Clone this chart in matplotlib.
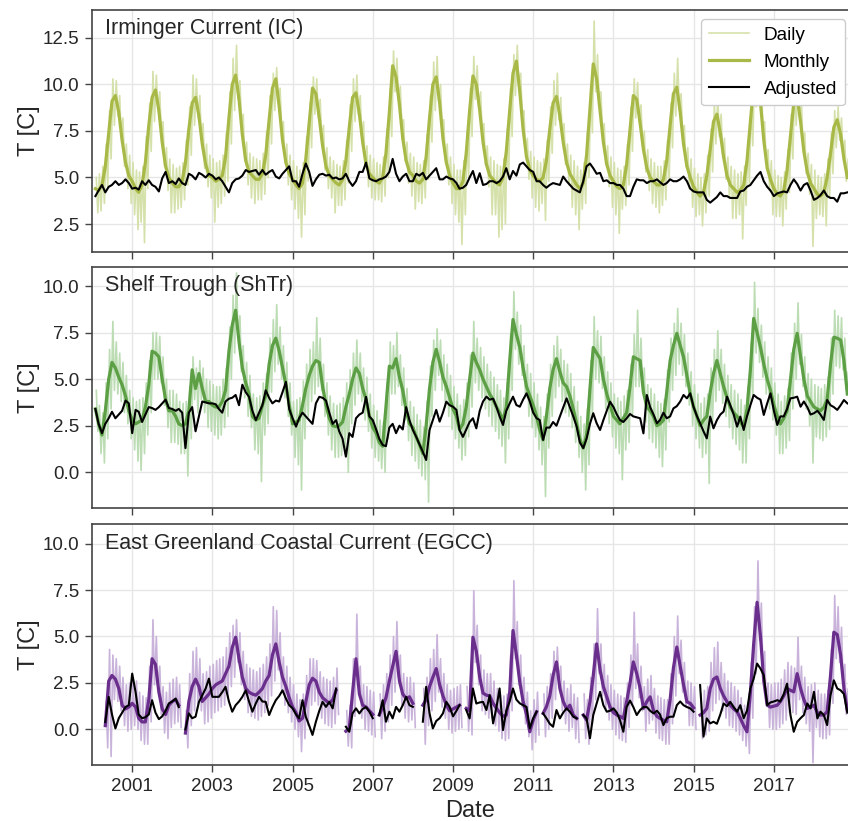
import numpy as np
import pandas as pd
import matplotlib
matplotlib.use("Agg")
from matplotlib import pyplot as plt

nan = np.nan

# monthly grid: Jan 2000 .. Nov 2018 (227 months), one row per year
start_month = "2000-01-01"

# ---------------- Irminger Current (IC) ----------------
ic_monthly = [
    nan, 4.4, 4.3, 4.6, 5.6, 7.4, 9.1, 9.4, 8.5, 7.0, 5.8, 5.1,
    4.8, 4.4, 4.2, 4.6, 5.8, 7.8, 9.3, 9.7, 8.6, 6.9, 5.6, 5.0,
    4.7, 4.5, 4.5, 4.8, 5.8, 7.6, 9.0, 9.3, 8.3, 6.8, 5.7, 5.1,
    5.0, 4.8, 4.9, 5.1, 6.1, 8.2, 10.0, 10.5, 9.2, 7.3, 5.9, 5.3,
    5.1, 4.9, 4.9, 5.2, 6.2, 8.1, 9.8, 10.3, 8.8, 7.0, 5.8, 5.2,
    4.9, 4.6, 4.4, 4.7, 6.0, 7.9, 9.8, 9.5, 8.2, 6.7, 5.6, 5.1,
    4.9, 4.7, 4.6, 4.9, 5.9, 7.7, 9.3, 9.55, 8.4, 6.9, 5.7, 5.2,
    5.0, 4.8, 4.7, 5.0, 6.3, 8.5, 11.0, 10.4, 8.9, 7.1, 5.9, 5.3,
    5.1, 4.8, 4.7, 4.9, 6.1, 8.2, 10.0, 10.4, 9.0, 7.1, 5.8, 5.1,
    4.7, 4.4, 4.4, 4.8, 6.3, 8.6, 10.45, 10.0, 8.6, 6.9, 5.7, 5.1,
    4.9, 4.7, 4.6, 5.0, 6.4, 8.6, 10.6, 11.25, 9.6, 7.6, 6.1, 5.4,
    5.1, 4.9, 4.8, 5.0, 5.9, 7.6, 9.0, 9.35, 8.3, 6.9, 5.8, 5.2,
    4.9, 4.6, 4.4, 4.7, 6.2, 8.7, 11.1, 10.3, 8.6, 6.9, 5.7, 5.1,
    4.8, 4.5, 4.4, 4.6, 5.7, 7.6, 9.4, 9.2, 7.9, 6.5, 5.5, 5.0,
    4.8, 4.6, 4.6, 4.9, 5.9, 7.8, 9.5, 9.85, 8.5, 6.8, 5.6, 5.0,
    4.5, 4.2, 4.0, 4.2, 5.1, 6.5, 8.0, 8.4, 7.4, 6.1, 5.1, 4.6,
    4.4, 4.2, 4.3, 4.6, 5.9, 8.0, 10.0, 10.6, 9.0, 7.0, 5.5, 4.9,
    4.4, 4.1, 4.0, 4.3, 5.4, 7.2, 9.0, 9.35, 8.0, 6.4, 5.3, 4.7,
    4.4, 4.1, 4.0, 4.2, 5.0, 6.3, 7.7, 8.1, 7.3, 6.0, 5.0,
]
ic_adjusted = [
    nan, 4.0, 4.3, 4.6, 4.2, 4.5, 4.6, 4.8, 4.6, 4.7, 4.9, 4.7,
    4.4, 4.45, 4.35, 4.8, 4.6, 4.85, 4.6, 4.5, 4.25, 4.95, 5.3, 4.7,
    4.8, 4.65, 4.95, 4.7, 4.6, 5.2, 5.1, 4.9, 5.25, 5.15, 5.0, 5.2,
    5.1, 4.9, 5.0, 4.8, 4.5, 4.2, 4.7, 4.9, 4.95, 5.1, 5.4, 5.3,
    5.35, 5.4, 5.15, 5.4, 5.15, 5.3, 5.4, 5.05, 4.95, 5.2, 5.4, 5.6,
    4.8, 4.8, 4.5, 5.2, 5.75, 5.3, 4.55, 4.9, 5.15, 5.2, 5.1, 5.15,
    4.95, 5.0, 4.9, 4.95, 5.2, 4.8, 4.55, 4.8, 5.3, 5.3, 5.8, 4.95,
    4.85, 4.8, 4.9, 4.95, 5.05, 5.3, 6.0, 5.2, 4.8, 5.05, 5.2, 4.8,
    4.8, 5.2, 5.1, 5.25, 4.9, 5.1, 5.3, 5.5, 4.9, 4.9, 5.05, 4.95,
    4.9, 4.7, 4.4, 4.45, 4.6, 5.0, 5.35, 4.7, 5.23, 4.6, 4.65, 4.8,
    4.8, 4.7, 4.8, 5.05, 5.5, 4.9, 5.35, 5.1, 5.7, 5.8, 5.6, 5.4,
    5.3, 4.8, 4.8, 4.6, 4.45, 4.6, 4.7, 4.65, 4.6, 5.05, 4.8, 4.6,
    4.4, 4.3, 4.2, 4.8, 5.6, 5.75, 5.5, 5.2, 5.25, 4.8, 4.85, 4.7,
    4.7, 4.6, 4.6, 4.4, 4.0, 4.0, 4.5, 4.9, 4.85, 4.85, 4.7, 4.8,
    4.8, 4.9, 4.75, 4.6, 4.7, 4.9, 4.8, 4.8, 4.9, 5.05, 4.8, 4.4,
    4.25, 4.2, 4.2, 4.2, 3.8, 3.65, 3.8, 3.95, 4.2, 4.0, 4.0, 3.9,
    3.9, 3.9, 4.25, 4.3, 4.5, 4.6, 4.85, 5.1, 5.3, 4.8, 4.5, 4.3,
    4.0, 4.15, 4.2, 4.25, 4.2, 4.6, 4.9, 4.65, 4.3, 4.6, 4.7, 4.3,
    3.8, 3.9, 4.05, 4.3, 4.0, 3.9, 3.9, 3.7, 4.15, 4.15, 4.2,
]
# daily range within each month (highest / lowest daily value)
ic_daily_hi = [
    nan, 5.0, 5.2, 5.6, 6.8, 8.6, 10.3, 10.2, 9.4, 8.2, 6.8, 6.2,
    5.8, 5.4, 5.3, 5.6, 7.2, 9.0, 10.7, 10.5, 9.6, 8.0, 6.6, 6.0,
    5.7, 5.5, 5.6, 5.8, 7.0, 8.8, 10.5, 10.3, 9.4, 7.9, 6.8, 6.2,
    6.0, 5.8, 5.9, 6.2, 7.4, 9.6, 11.4, 12.1, 10.2, 8.4, 6.9, 6.3,
    6.1, 6.0, 5.9, 6.3, 7.5, 9.4, 10.6, 10.9, 9.8, 8.0, 6.8, 6.2,
    5.9, 5.6, 5.4, 5.8, 7.2, 9.0, 10.4, 10.3, 9.2, 7.8, 6.6, 6.1,
    5.9, 5.7, 5.6, 5.9, 7.0, 8.9, 10.3, 10.5, 9.4, 8.0, 6.7, 6.2,
    6.0, 5.8, 5.7, 6.1, 7.6, 9.8, 11.8, 11.4, 9.9, 8.1, 6.9, 6.3,
    6.1, 5.8, 5.7, 5.9, 7.3, 9.4, 11.2, 11.5, 10.0, 8.1, 6.8, 6.1,
    5.7, 5.4, 5.4, 5.9, 7.5, 9.8, 11.5, 11.0, 9.6, 7.9, 6.7, 6.1,
    5.9, 5.7, 5.6, 6.0, 7.6, 9.8, 11.6, 12.1, 10.6, 8.6, 7.1, 6.4,
    6.1, 5.9, 5.8, 6.0, 7.0, 8.8, 10.2, 10.6, 9.3, 7.9, 6.8, 6.2,
    5.9, 5.6, 5.4, 5.8, 7.4, 10.0, 13.4, 11.6, 9.6, 7.9, 6.7, 6.1,
    5.8, 5.5, 5.4, 5.6, 6.8, 8.8, 10.3, 10.1, 8.9, 7.5, 6.5, 6.0,
    5.8, 5.6, 5.6, 5.9, 7.0, 9.0, 10.6, 11.4, 9.5, 7.8, 6.6, 6.0,
    5.5, 5.2, 5.0, 5.2, 6.2, 7.6, 9.0, 9.3, 8.4, 7.1, 6.1, 5.6,
    5.4, 5.2, 5.3, 5.6, 7.0, 9.2, 11.0, 11.3, 10.0, 8.0, 6.5, 5.9,
    5.4, 5.1, 5.0, 5.3, 6.5, 8.4, 10.0, 10.2, 9.0, 7.4, 6.3, 5.7,
    5.4, 5.1, 5.0, 5.2, 6.0, 7.4, 8.6, 8.8, 8.2, 7.0, 6.0,
]
ic_daily_lo = [
    nan, 3.1, 3.2, 3.6, 4.5, 6.0, 7.8, 8.3, 7.2, 5.6, 4.4, 3.6,
    3.0, 2.2, 2.6, 1.5, 4.4, 6.4, 8.0, 8.6, 7.3, 5.6, 4.3, 3.1,
    3.1, 3.3, 3.4, 3.8, 4.6, 6.2, 7.8, 8.2, 7.0, 5.5, 4.5, 3.9,
    2.6, 3.4, 3.6, 4.0, 4.8, 6.8, 8.6, 9.2, 7.9, 6.0, 4.6, 3.9,
    3.6, 3.8, 3.8, 4.1, 5.0, 6.8, 8.6, 9.0, 7.6, 5.8, 4.6, 3.8,
    3.3, 2.8, 1.8, 3.0, 4.8, 6.6, 8.4, 8.2, 7.0, 5.4, 4.4, 3.9,
    3.1, 3.5, 3.5, 3.8, 4.7, 6.4, 8.0, 8.4, 7.2, 5.7, 4.5, 3.9,
    3.8, 3.8, 3.7, 4.0, 5.0, 7.2, 9.6, 9.2, 7.7, 5.9, 4.7, 4.0,
    3.3, 3.7, 3.6, 3.9, 4.9, 6.9, 8.6, 9.1, 7.8, 5.9, 4.6, 3.6,
    3.0, 2.6, 1.4, 3.0, 5.0, 7.2, 9.2, 8.8, 7.3, 5.7, 4.5, 3.0,
    3.0, 1.8, 2.2, 2.5, 5.1, 7.2, 9.4, 10.0, 8.4, 6.4, 4.9, 3.9,
    3.4, 3.2, 3.6, 2.7, 4.8, 6.3, 7.8, 8.1, 7.1, 5.7, 4.6, 3.4,
    3.0, 2.2, 3.3, 3.6, 5.0, 7.4, 9.6, 9.0, 7.4, 5.7, 4.5, 3.4,
    3.0, 2.0, 3.3, 3.5, 4.6, 6.4, 8.2, 8.0, 6.7, 5.3, 4.3, 3.6,
    3.4, 3.1, 3.5, 3.8, 4.8, 6.6, 8.3, 8.6, 7.3, 5.6, 4.4, 3.4,
    2.9, 3.0, 2.4, 3.1, 4.0, 5.3, 6.8, 7.2, 6.2, 4.9, 3.9, 2.8,
    2.8, 3.0, 1.7, 3.5, 4.7, 6.7, 8.8, 9.3, 7.8, 5.8, 4.3, 3.0,
    2.9, 2.9, 2.4, 3.3, 4.2, 6.0, 7.8, 8.2, 6.8, 5.2, 4.1, 1.3,
    2.8, 3.0, 2.9, 2.4, 3.9, 5.2, 6.6, 7.0, 6.2, 4.8, 3.9,
]

# ---------------- Shelf Trough (ShTr) ----------------
shtr_monthly = [
    nan, 3.4, 2.6, 2.0, 3.3, 5.0, 5.9, 5.6, 5.1, 4.7, 4.1, 3.3,
    2.8, 2.6, 2.7, 2.8, 3.5, 4.7, 6.5, 6.4, 6.2, 5.0, 3.9, 3.3,
    3.3, 3.0, 2.6, 2.5, 2.6, 3.3, 5.5, 4.5, 5.3, 4.5, 3.8, 3.8,
    3.6, 3.5, 3.5, 3.8, 4.4, 6.5, 7.9, 8.7, 7.0, 5.6, 4.8, 4.2,
    3.0, 2.8, 2.9, 3.6, 4.1, 5.8, 6.8, 7.2, 6.5, 5.6, 4.7, 3.6,
    2.6, 2.7, 2.8, 3.6, 4.5, 5.2, 5.7, 6.0, 5.9, 4.6, 3.6, 2.9,
    2.5, 2.45, 2.5, 2.7, 3.5, 4.2, 5.0, 5.6, 5.3, 4.5, 3.9, 3.0,
    2.4, 2.1, 1.6, 1.4, 3.5, 5.7, 5.6, 6.1, 5.1, 4.4, 3.3, 2.6,
    2.4, 1.9, 1.5, 1.0, 2.5, 4.5, 5.9, 6.6, 5.9, 5.1, 4.6, 4.0,
    3.4, 3.0, 2.3, 2.6, 3.5, 5.0, 6.4, 5.9, 5.5, 5.0, 4.6, 4.2,
    3.9, 3.5, 3.2, 2.8, 3.5, 6.0, 8.2, 7.4, 6.7, 5.6, 4.6, 4.1,
    3.6, 3.0, 2.3, 1.74, 3.0, 4.5, 5.5, 6.1, 5.4, 4.8, 4.6, 4.1,
    3.4, 2.6, 1.8, 1.3, 2.0, 4.5, 6.7, 6.4, 6.1, 5.0, 4.2, 3.6,
    3.0, 2.8, 2.6, 2.9, 3.2, 4.6, 6.2, 6.1, 6.0, 4.3, 3.5, 3.3,
    3.0, 2.5, 2.6, 2.8, 4.3, 6.0, 6.8, 7.46, 6.8, 6.2, 5.2, 4.2,
    3.5, 3.0, 2.5, 2.8, 3.0, 4.3, 5.3, 6.0, 5.3, 4.6, 4.0, 3.5,
    3.2, 3.0, 2.7, 2.45, 3.4, 5.5, 8.26, 7.5, 6.7, 5.8, 5.0, 4.4,
    3.6, 3.0, 2.6, 2.9, 3.3, 5.0, 6.6, 7.46, 6.2, 5.0, 4.1, 3.8,
    3.5, 3.4, 3.3, 3.5, 3.9, 5.8, 7.25, 7.2, 7.1, 6.0, 4.2,
]
shtr_adjusted = [
    nan, 3.4, 2.6, 2.1, 2.6, 2.9, 3.25, 2.9, 3.1, 3.3, 3.85, 3.7,
    2.1, 3.35, 3.25, 2.7, 3.1, 3.5, 3.45, 3.35, 3.5, 3.7, 3.9, 3.45,
    3.4, 3.3, 3.4, 3.2, 1.3, 3.2, 3.5, 2.2, 3.0, 3.8, 3.75, 3.7,
    3.7, 3.65, 3.4, 3.2, 3.8, 3.95, 4.0, 4.15, 3.6, 4.7, 4.3, 4.05,
    3.3, 2.8, 3.2, 3.6, 4.4, 4.0, 3.7, 3.85, 3.8, 4.3, 4.85, 3.4,
    2.9, 2.45, 2.9, 3.2, 3.0, 2.8, 2.6, 3.7, 4.05, 4.0, 3.85, 3.2,
    2.6, 2.8, 2.2, 1.8, 0.84, 2.1, 1.9, 2.9, 3.1, 3.2, 4.05, 3.0,
    2.8, 2.3, 1.8, 1.47, 1.4, 2.4, 2.6, 2.1, 2.5, 2.3, 3.5, 2.8,
    2.27, 1.9, 1.5, 1.1, 0.66, 2.27, 2.8, 3.35, 2.72, 3.2, 3.79, 3.6,
    3.52, 3.35, 2.27, 1.9, 2.3, 2.7, 2.9, 2.36, 3.3, 3.8, 4.06, 3.9,
    3.95, 3.5, 3.0, 2.54, 3.3, 3.7, 4.06, 3.61, 3.52, 3.9, 4.24, 3.8,
    3.2, 2.9, 2.81, 1.74, 2.4, 2.4, 2.7, 2.5, 3.0, 3.5, 3.97, 3.5,
    3.0, 2.45, 1.6, 1.3, 1.8, 2.6, 3.17, 2.63, 2.27, 2.8, 3.3, 3.79,
    3.5, 3.1, 2.81, 2.7, 2.9, 3.13, 3.0, 2.95, 2.9, 2.09, 4.15, 3.5,
    3.1, 2.63, 2.81, 3.2, 2.9, 3.0, 3.43, 3.55, 3.8, 4.15, 3.97, 4.24,
    3.5, 3.0, 2.63, 2.2, 1.82, 2.99, 2.36, 2.8, 3.1, 3.26, 4.06, 3.6,
    3.1, 2.45, 2.99, 2.27, 3.0, 3.6, 4.15, 4.0, 3.9, 3.08, 3.7, 4.24,
    3.3, 2.54, 3.0, 3.0, 3.4, 3.97, 4.0, 4.06, 3.52, 3.8, 3.5, 3.1,
    3.17, 3.3, 3.1, 2.81, 3.88, 3.6, 3.5, 3.35, 3.6, 3.88, 3.7,
]
shtr_daily_hi = [
    nan, 4.4, 3.6, 3.2, 4.8, 6.6, 8.1, 7.0, 6.4, 5.9, 5.2, 4.4,
    4.0, 3.8, 3.9, 4.0, 4.8, 6.0, 7.5, 7.5, 7.3, 6.2, 5.0, 4.4,
    4.4, 4.2, 3.8, 3.7, 3.8, 4.6, 6.2, 5.6, 6.0, 5.6, 5.0, 4.9,
    4.7, 4.6, 4.6, 5.0, 5.6, 7.8, 9.5, 10.7, 8.4, 6.8, 5.9, 5.2,
    4.2, 4.0, 4.1, 4.8, 5.3, 7.2, 8.2, 9.0, 7.8, 6.8, 5.9, 4.8,
    3.8, 3.9, 4.0, 4.9, 5.8, 6.6, 7.0, 8.3, 7.2, 5.8, 4.8, 4.1,
    3.7, 3.6, 3.7, 4.0, 4.8, 5.5, 6.4, 7.1, 6.4, 5.6, 5.1, 4.2,
    3.6, 3.3, 2.8, 2.7, 4.8, 7.0, 6.8, 7.5, 6.3, 5.6, 4.5, 3.8,
    3.5, 3.1, 2.8, 2.4, 3.8, 5.7, 7.1, 7.7, 7.1, 6.3, 5.8, 5.2,
    4.6, 4.2, 3.6, 3.9, 4.8, 6.3, 8.1, 7.2, 6.7, 6.2, 5.8, 5.4,
    5.1, 4.7, 4.4, 4.0, 4.8, 7.4, 9.7, 8.6, 7.9, 6.8, 5.8, 5.3,
    4.8, 4.2, 3.5, 3.0, 4.2, 5.8, 6.8, 7.3, 6.6, 6.0, 5.8, 5.3,
    4.6, 3.8, 3.0, 2.6, 3.4, 6.0, 8.35, 7.6, 7.3, 6.2, 5.4, 4.8,
    4.2, 4.0, 3.8, 4.1, 4.4, 5.8, 7.4, 8.7, 7.2, 5.6, 4.7, 4.5,
    4.2, 3.8, 3.7, 3.9, 5.5, 7.2, 8.0, 8.8, 8.0, 7.4, 6.4, 5.4,
    4.7, 4.2, 3.7, 4.0, 4.2, 5.6, 6.6, 7.6, 6.6, 5.8, 5.2, 4.7,
    4.4, 4.2, 3.9, 3.6, 4.6, 7.0, 10.2, 8.8, 7.9, 7.0, 6.2, 5.6,
    4.8, 4.2, 3.8, 4.1, 4.5, 6.4, 8.0, 9.1, 7.4, 6.2, 5.3, 5.0,
    4.7, 4.6, 4.5, 4.7, 5.1, 7.2, 8.7, 8.4, 8.3, 7.2, 5.4,
]
shtr_daily_lo = [
    nan, 2.2, 1.0, 0.5, 1.8, 3.4, 4.4, 4.2, 3.8, 3.2, 2.6, 1.8,
    1.2, 0.6, 0.1, 1.0, 2.0, 3.2, 5.0, 5.0, 4.8, 3.6, 2.4, 1.6,
    1.6, 1.5, 1.0, 1.0, -0.2, 1.8, 3.9, 3.2, 3.9, 3.2, 2.4, 2.2,
    2.0, 1.8, 2.0, 2.4, 3.0, 5.0, 6.4, 7.2, 5.4, 4.0, 3.0, 2.4,
    1.2, 1.0, -0.5, 2.0, 2.6, 4.3, 5.4, 5.8, 5.0, 4.0, 3.0, 2.0,
    0.8, 0.4, -0.95, 1.8, 3.0, 3.8, 4.2, 4.6, 4.4, 3.0, 2.0, 1.2,
    0.8, 0.8, 0.9, 1.0, 0.0, 2.6, 3.6, 4.2, 3.8, 2.8, 2.2, 1.3,
    0.8, 0.6, 0.2, 0.0, 1.8, 4.2, 4.2, 4.6, 3.6, 2.8, 1.7, 0.9,
    0.6, 0.2, -0.2, -0.4, -1.6, 3.0, 4.4, 5.2, 4.4, 3.5, 3.0, 2.3,
    1.8, 1.3, 0.66, 0.9, 1.9, 3.5, 4.8, 4.4, 4.0, 3.4, 3.0, 2.5,
    2.2, 1.8, 1.4, 0.5, 1.8, 4.4, 6.6, 5.8, 5.2, 4.0, 3.0, 2.4,
    1.9, 1.2, 0.4, -1.3, 1.3, 3.0, 4.0, 4.6, 3.8, 3.2, 3.0, 2.4,
    1.6, 0.8, 0.0, -0.95, 0.4, 3.0, 5.0, 4.8, 4.5, 3.4, 2.6, 1.9,
    1.3, 1.0, -0.4, 1.2, 1.6, 3.0, 4.6, 4.6, 4.4, 2.7, 1.8, 1.6,
    1.3, 0.8, 0.3, 1.2, 2.7, 4.4, 5.2, 5.8, 5.2, 4.6, 3.6, 2.5,
    1.8, 1.3, 0.8, 1.0, -0.6, 2.7, 3.8, 4.4, 3.7, 3.0, 2.4, 1.8,
    1.5, 1.2, 0.5, 0.5, 1.8, 4.0, 6.4, 5.9, 5.1, 4.2, 3.4, 2.8,
    2.0, 1.0, 1.0, 1.3, 1.7, 3.4, 5.0, 5.8, 4.6, 3.4, 2.5, 0.5,
    1.9, 1.8, 1.7, 1.9, 2.3, 4.2, 5.7, 5.6, 5.5, 4.4, 2.6,
]

# ---------------- East Greenland Coastal Current (EGCC) ----------------
egcc_monthly = [
    nan, nan, nan, nan, 0.2, 2.6, 2.9, 2.7, 2.2, 1.3, 1.1, 1.2,
    1.4, 1.2, 0.6, 0.4, 0.4, 1.6, 3.8, 3.5, 2.0, 1.1, 0.8, 1.3,
    1.5, 1.6, 1.3, nan, -0.2, 1.5, 2.3, 2.7, 2.3, 1.5, 1.7, 1.9,
    2.2, 2.4, 2.5, 2.6, 3.0, 3.4, 4.4, 4.96, 3.8, 2.8, 2.2, 2.0,
    1.9, 1.84, 2.0, 2.2, 2.6, 2.9, 4.0, 4.6, 3.6, 2.8, 2.3, 1.7,
    1.2, 0.9, 0.45, 0.6, 1.5, 2.4, 2.75, 2.6, 2.0, 1.7, 1.55, 1.4,
    1.6, 2.1, nan, nan, -0.1, 0.05, 2.0, 3.8, 1.9, 1.3, 1.2, 1.0,
    0.8, nan, 0.77, 1.2, 1.7, 2.6, 3.4, 4.2, 2.6, 1.9, 1.66, 1.75,
    1.4, nan, nan, 1.3, 1.6, 2.3, 2.8, 3.27, 2.4, 1.8, 1.3, 1.0,
    1.1, 1.2, 1.3, nan, 1.13, 1.0, 4.96, 4.2, 2.8, 1.95, 1.84, 1.8,
    1.4, 1.13, 0.9, 0.7, 0.77, 2.0, 5.32, 4.0, 2.55, 1.5, 0.8, -0.13,
    0.5, 0.95, nan, 0.86, 1.21, 1.8, 2.9, 3.63, 2.2, 1.5, 1.1, 1.3,
    0.77, 0.59, nan, 0.77, 0.5, 1.5, 2.9, 4.6, 3.2, 2.3, 1.75, 1.2,
    0.9, 0.77, 0.7, 0.59, 1.5, 2.5, 3.63, 3.0, 2.2, 1.13, 1.5, 1.75,
    1.0, 0.7, 0.59, 0.5, 0.41, 1.6, 3.3, 4.43, 3.4, 2.4, 1.48, 1.4,
    1.16, nan, 0.77, 0.9, 1.13, 2.2, 2.7, 2.82, 2.2, 1.8, 1.48, 1.3,
    1.1, 0.95, 0.6, 0.2, -0.13, 2.0, 4.6, 6.84, 5.0, 2.6, 1.3, 1.2,
    1.25, 1.3, 1.5, 1.8, 2.2, 2.1, 2.02, 3.0, 2.2, 1.6, 1.13, 1.2,
    1.3, 0.9, 0.77, 0.77, 0.95, 2.91, 5.23, 5.1, 4.0, 2.2, 1.0,
]
egcc_adjusted = [
    nan, nan, nan, nan, 0.4, 1.75, 0.8, 0.05, 0.6, 0.9, 1.2, 1.3,
    3.0, 2.0, 0.8, 0.6, 0.65, 0.8, 1.57, 0.9, 0.55, 0.7, 1.0, 1.4,
    1.5, 1.66, 1.2, nan, 0.0, 0.86, 0.6, 0.68, 1.48, 1.84, 2.2, 2.73,
    1.75, 1.75, 1.75, 2.0, 2.29, 1.5, 0.95, 1.3, 1.5, 1.75, 2.1, 1.5,
    0.95, 1.4, 1.75, 1.5, 1.48, 0.77, 1.2, 1.57, 1.8, 2.1, 1.66, 1.3,
    1.13, 0.8, 0.59, 1.57, 0.68, 0.2, -0.3, 0.41, 1.0, 1.48, 1.21, 1.48,
    1.13, 2.2, nan, nan, 0.14, -0.13, 0.86, 1.13, 0.86, 1.1, 1.2, 0.95,
    0.6, nan, 0.77, 1.57, 0.41, 0.95, 0.59, 1.21, 0.95, 1.3, 1.75, 1.3,
    1.21, nan, nan, 0.41, 2.29, 0.86, 0.05, 0.45, 0.6, 0.86, 1.48, 1.21,
    0.7, 1.0, 1.3, nan, 1.04, 0.59, 2.2, 1.39, 1.45, 1.48, 1.04, 1.84,
    0.32, 1.2, 2.2, -0.04, 1.0, 1.5, 2.2, 1.6, 1.4, 1.3, 1.21, 0.05,
    0.6, 0.95, nan, 0.86, 0.6, 0.3, 0.14, 1.04, 0.59, 0.9, 1.13, 0.95,
    0.68, 0.59, nan, 0.77, 0.59, -0.48, 0.77, 1.4, 2.02, 1.3, 0.95, 1.0,
    1.13, 0.9, 0.5, -0.13, 1.2, 1.55, 1.2, 0.77, 1.04, 1.2, 1.2, 1.0,
    0.86, 1.0, 0.8, 0.23, 0.6, 0.68, 0.68, 1.3, 1.5, 1.3, 1.2, 1.13,
    0.95, nan, 2.38, -0.39, 0.59, 0.32, 0.41, 0.3, 0.8, 1.39, 1.25, 1.48,
    1.2, 0.95, 1.3, 0.6, 1.0, 2.2, 2.73, 3.54, 3.27, 2.91, 1.3, 1.45,
    1.5, 1.57, 1.5, 1.9, 2.46, 0.77, -0.13, 0.4, 0.6, 0.77, 1.39, 1.13,
    2.02, 0.59, 0.95, 0.77, 0.23, 1.84, 2.64, 2.2, 2.1, 1.9, 0.9,
]
egcc_daily_hi = [
    nan, nan, nan, nan, 1.5, 4.3, 4.0, 3.8, 3.4, 2.8, 2.4, 2.5,
    2.8, 2.6, 2.0, 1.8, 1.7, 3.4, 5.9, 5.0, 3.4, 2.3, 2.0, 2.5,
    2.7, 2.8, 2.4, nan, 1.0, 3.0, 4.2, 4.4, 3.8, 3.0, 3.1, 3.4,
    3.5, 3.7, 3.8, 3.9, 4.4, 5.2, 5.6, 5.9, 5.2, 4.2, 3.5, 3.3,
    3.2, 3.1, 3.3, 3.5, 3.9, 4.6, 6.6, 6.4, 5.2, 3.9, 3.4, 2.8,
    2.4, 1.9, 1.6, 1.9, 2.9, 3.8, 3.8, 3.7, 3.1, 2.8, 2.7, 2.6,
    2.8, 3.3, nan, nan, 1.0, 1.3, 3.8, 6.2, 3.4, 2.4, 2.3, 2.1,
    2.0, nan, 1.9, 2.4, 3.0, 4.0, 5.0, 5.8, 4.0, 3.0, 2.8, 2.8,
    2.5, nan, nan, 2.2, 2.8, 3.8, 4.3, 5.1, 3.8, 3.0, 2.4, 2.1,
    2.2, 2.3, 2.4, nan, 2.3, 2.2, 7.46, 5.6, 4.0, 3.2, 3.0, 3.0,
    2.6, 2.2, 1.9, 1.8, 1.9, 4.0, 8.0, 5.8, 4.0, 2.8, 2.0, 1.0,
    1.6, 2.0, nan, 1.9, 2.3, 3.0, 4.2, 4.43, 3.4, 2.6, 2.2, 2.4,
    1.9, 1.7, nan, 1.9, 1.6, 2.8, 4.6, 6.5, 4.6, 3.5, 2.9, 2.4,
    2.1, 1.9, 1.8, 1.7, 2.5, 4.0, 6.3, 4.6, 3.4, 2.3, 2.7, 2.9,
    2.2, 1.8, 1.7, 1.6, 1.6, 3.0, 5.0, 6.1, 4.8, 3.6, 2.6, 2.5,
    2.3, nan, 1.9, 2.1, 2.3, 3.6, 4.4, 4.7, 3.6, 3.0, 2.6, 2.5,
    2.3, 2.1, 1.7, 1.3, 1.0, 3.6, 6.6, 9.07, 6.8, 4.2, 2.5, 2.4,
    2.5, 2.5, 2.7, 3.2, 3.6, 3.4, 3.3, 4.96, 3.4, 2.8, 2.3, 2.4,
    2.5, 2.1, 1.9, 1.9, 2.1, 4.3, 7.2, 6.6, 5.5, 3.5, 2.2,
]
egcc_daily_lo = [
    nan, nan, nan, nan, -1.0, -1.46, 1.6, 1.5, 1.0, 0.2, -0.1, 0.0,
    0.2, 0.0, -0.6, -0.8, -0.8, 0.4, 2.4, 2.2, 0.8, -0.2, -0.5, 0.1,
    0.3, 0.4, 0.1, nan, -1.0, 0.2, 1.0, 1.4, 1.0, 0.3, 0.4, 0.6,
    0.9, 1.0, 1.2, 1.3, 1.7, 2.3, 2.8, 3.6, 2.4, 1.6, 0.9, 0.7,
    0.6, 0.5, 0.7, 0.9, 1.3, 1.8, 2.6, 3.2, 2.1, 1.3, 0.9, 0.4,
    0.0, -0.4, -1.2, -0.5, 0.2, 1.3, 1.5, 1.3, 0.6, 0.3, 0.2, 0.1,
    0.3, 0.8, nan, nan, -0.9, -1.0, 0.7, 2.4, 0.6, 0.0, -0.1, -0.3,
    -0.4, nan, -0.5, -0.1, 0.4, 1.3, 2.0, 2.8, 1.3, 0.6, 0.4, 0.5,
    0.1, nan, nan, -0.8, 0.2, 1.0, 1.5, 2.0, 1.2, 0.6, 0.0, -0.2,
    -0.1, 0.0, 0.1, nan, -0.1, -0.3, 3.6, 2.4, 1.0, 0.8, 0.6, 0.6,
    0.2, -0.1, -0.5, -0.6, -0.5, 1.0, 3.8, 2.4, 1.2, 0.3, -0.4, -1.1,
    -0.7, -0.3, nan, -0.4, 0.0, 0.6, 1.6, 2.6, 1.0, 0.3, -0.1, 0.1,
    -0.5, -0.7, nan, -0.5, -0.8, 0.3, 1.6, 3.0, 1.8, 1.1, 0.5, 0.0,
    -0.3, -0.5, -0.6, -0.7, 0.1, 1.3, 2.2, 1.7, 1.0, -0.1, 0.3, 0.5,
    -0.2, -0.5, -0.6, -0.8, -0.8, 0.3, 1.8, 3.0, 2.0, 1.2, 0.2, 0.2,
    0.0, nan, -0.5, -0.3, -0.1, 1.0, 1.4, 1.6, 1.0, 0.6, 0.2, 0.1,
    -0.1, -0.3, -0.6, -0.9, -1.3, 0.6, 3.0, 4.8, 3.2, 1.4, 0.1, 0.0,
    0.0, 0.1, 0.3, 0.5, 0.9, 0.9, 0.8, 1.6, 0.9, 0.3, -0.1, -1.8,
    0.1, -0.4, -0.5, -0.5, -0.3, 1.4, 3.8, 3.6, 2.6, 0.8, -0.6,
]

panel_titles = ["Irminger Current (IC)", "Shelf Trough (ShTr)",
                "East Greenland Coastal Current (EGCC)"]
tick_years = [2001, 2003, 2005, 2007, 2009, 2011, 2013, 2015, 2017]

plt.rcParams['font.family'] = ['Liberation Sans', 'DejaVu Sans']

months = pd.date_range(start_month, periods=len(ic_monthly), freq="MS")
# two daily extremes per month, early and late in the month
t_daily = np.column_stack((months + pd.Timedelta(days=8),
                           months + pd.Timedelta(days=22))).ravel()

panels = [
    (ic_daily_hi, ic_daily_lo, ic_monthly, ic_adjusted, "#d5e1aa", "#a9b948"),
    (shtr_daily_hi, shtr_daily_lo, shtr_monthly, shtr_adjusted, "#bcdcb3", "#5c9f45"),
    (egcc_daily_hi, egcc_daily_lo, egcc_monthly, egcc_adjusted, "#c9b3da", "#6a2e8c"),
]

fig = plt.figure(figsize=(8.48, 8.21), dpi=100)
boxes = [[0.1085, 0.6931, 0.8915, 0.2948],
         [0.1085, 0.3812, 0.8915, 0.2940],
         [0.1085, 0.0682, 0.8915, 0.2932]]

for k, (hi, lo, mon, adj, c_light, c_main) in enumerate(panels):
    ax = fig.add_axes(boxes[k])
    daily = np.column_stack((hi, lo)).ravel()
    ax.plot(t_daily, daily, color=c_light, lw=1.2, label="Daily")
    ax.plot(months, mon, color=c_main, lw=2.3, label="Monthly")
    ax.plot(months, adj, color="black", lw=1.5, label="Adjusted")

    ax.set_xlim(pd.Timestamp("2000-01-01"), pd.Timestamp("2018-11-07"))
    ax.set_xticks([pd.Timestamp(f"{y}-01-01") for y in tick_years])
    if k == 2:
        ax.set_xticklabels([str(y) for y in tick_years])
        ax.set_xlabel("Date", fontsize=17, color="#262626", labelpad=4)
    else:
        ax.set_xticklabels([])

    if k == 0:
        ax.set_ylim(1.0, 14.0)
        ax.set_yticks([2.5, 5.0, 7.5, 10.0, 12.5])
    else:
        ax.set_ylim(-1.92, 11.04)
        ax.set_yticks([0.0, 2.5, 5.0, 7.5, 10.0])
    ax.set_yticklabels([f"{v:.1f}" for v in ax.get_yticks()])
    ax.set_ylabel("T [C]", fontsize=17, color="#262626", labelpad=2)

    ax.grid(True, color="#e6e6e6", lw=1.0)
    ax.set_axisbelow(True)
    for side in ["left", "bottom", "top"]:
        ax.spines[side].set_color("#444444")
        ax.spines[side].set_linewidth(1.2)
    ax.spines["right"].set_visible(False)
    ax.tick_params(axis="both", direction="out", length=5, width=1.0,
                   color="#444444", labelsize=13.5, labelcolor="#262626", pad=4)

    ax.text(0.017, 0.965, panel_titles[k], transform=ax.transAxes,
            ha="left", va="top", fontsize=15.5, color="#262626")

    if k == 0:
        ax.legend(loc="upper right", bbox_to_anchor=(0.996, 0.962),
                  borderaxespad=0, fontsize=13.7, frameon=True,
                  edgecolor="#cccccc", framealpha=1.0, handlelength=2.1)

fig.savefig("out.png", dpi=100)
